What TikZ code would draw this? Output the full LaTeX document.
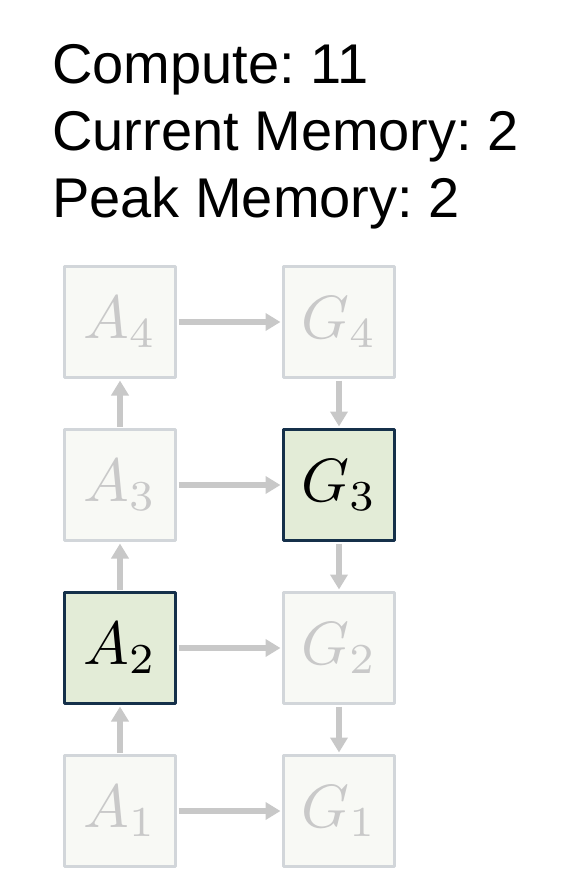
\documentclass[tikz,border=0pt]{standalone}
\usepackage{fontspec}
\setmainfont{Liberation Sans}
\frenchspacing
\usetikzlibrary{arrows.meta}
\definecolor{boxfill}{HTML}{F8F9F5}
\definecolor{boxline}{HTML}{D2D6DA}
\definecolor{labgray}{HTML}{C9C9C9}
\definecolor{arrgray}{HTML}{C8C8C8}
\definecolor{hotfill}{HTML}{E3ECD7}
\definecolor{hotline}{HTML}{15304A}
\newcommand\lab[2]{\scalebox{6.1}{$#1_{#2}$}}
\begin{document}
\begin{tikzpicture}[x=1pt, y=1pt, line join=round, >={Triangle[length=15pt,width=17pt]},
 txt/.style={anchor=base west, inner sep=0pt, font=\fontsize{56}{67}\selectfont},
 blk/.style={draw=boxline, fill=boxfill, line width=3pt, minimum size=111pt, inner sep=0pt, text=labgray},
 hot/.style={blk, draw=hotline, fill=hotfill, text=black},
 arr/.style={->, draw=arrgray, line width=6pt, shorten >=1.5pt, shorten <=1.5pt}]
 \useasboundingbox (0,0) rectangle (564,-892);
 \def\xa{120}\def\xg{339}
 \node[txt] (compute) at (52,-83) {Compute: 11};
 \node[txt] (curmem) at (52,-150) {Current Memory: 2};
 \node[txt] (peakmem) at (52,-217) {Peak Memory: 2};
 \foreach \i/\y/\sa/\sg in {1/-811/blk/blk, 2/-648/hot/blk, 3/-485/blk/hot, 4/-322/blk/blk} {
 \node[\sa] (A\i) at (\xa,\y) {\lab{A}{\i}};
 \node[\sg] (G\i) at (\xg,\y) {\lab{G}{\i}};
 }
 \foreach \i in {1,2,3,4}
 \draw[arr] (A\i) -- (G\i);
 \foreach \i/\j in {1/2,2/3,3/4}
 \draw[arr] (A\i) -- (A\j);
 \foreach \i/\j in {4/3,3/2,2/1}
 \draw[arr] (G\i) -- (G\j);
\end{tikzpicture}
\end{document}
